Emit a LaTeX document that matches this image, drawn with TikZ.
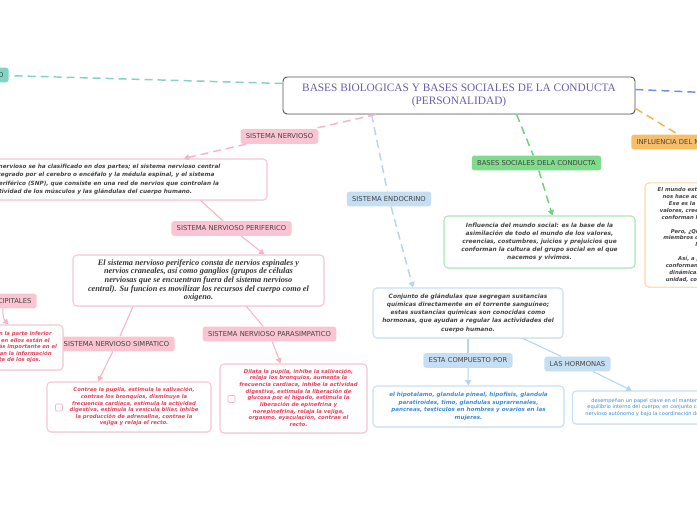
\documentclass[tikz,border=0pt]{standalone}
\usepackage{fontspec}
\setmainfont{Liberation Serif}
\newfontfamily\vsans{DejaVu Sans}[BoldFont={DejaVu Sans Bold},ItalicFont={DejaVu Sans Oblique},BoldItalicFont={DejaVu Sans Bold Oblique}]
\usetikzlibrary{arrows.meta,calc,shadows}

\definecolor{pinkfill}{HTML}{F9C5D2}
\definecolor{pinkline}{HTML}{F6B4C6}
\definecolor{pinkedge}{HTML}{F7C6D3}
\definecolor{redtxt}{HTML}{E8415F}
\definecolor{bluefill}{HTML}{C6DEF2}
\definecolor{blueline}{HTML}{B5D5EF}
\definecolor{blueedge}{HTML}{C9DFF2}
\definecolor{bluetxt}{HTML}{3A8EDA}
\definecolor{greenfill}{HTML}{80DB8C}
\definecolor{greenline}{HTML}{6ED07C}
\definecolor{greenedge}{HTML}{ACE8B2}
\definecolor{orgfill}{HTML}{F8BD67}
\definecolor{orgline}{HTML}{F6B050}
\definecolor{orgedge}{HTML}{FAD9A5}
\definecolor{tealfill}{HTML}{80D4C4}
\definecolor{tealline}{HTML}{83D2C2}
\definecolor{darkblue}{HTML}{6E8FE2}
\definecolor{titletxt}{HTML}{6C5EAC}
\definecolor{txtgray}{HTML}{444444}
\definecolor{mainedge}{HTML}{555555}

\begin{document}
\begin{tikzpicture}[x=0.75pt,y=-0.75pt]
	\tikzset{
		lbl/.style={rounded corners=2pt, inner xsep=4pt, inner ysep=0pt, minimum height=11pt, text=txtgray, font=\vsans\fontsize{5.1}{6}\selectfont},
		bx/.style={draw, line width=0.8pt, rounded corners=3pt, fill=white, align=center, drop shadow={opacity=0.1, shadow xshift=0.4pt, shadow yshift=-0.8pt}},
		boxtx/.style={font=\vsans\bfseries\itshape\fontsize{4.4}{6.1}\selectfont, text=txtgray},
		redtx/.style={font=\vsans\bfseries\itshape\fontsize{3.95}{4.9}\selectfont, text=redtxt},
		arr/.style={-{Triangle[length=4pt,width=4.5pt]}},
		dsh/.style={line width=1.1pt, dash pattern=on 6pt off 3.75pt},
		sol/.style={line width=0.8pt},
		chk/.style={draw=pinkline, line width=0.6pt, rounded corners=0.8pt, minimum size=5.2pt, inner sep=0pt}
	}

	\useasboundingbox (0,0) rectangle (697,520);
	\clip (0,0) rectangle (697,520);

	\node[bx, draw=mainedge, line width=0.7pt, minimum width=264pt, minimum height=27.75pt, text=titletxt, font=\fontsize{8.5}{9.8}\selectfont] (main) at (459,95.5) {BASES BIOLOGICAS Y BASES SOCIALES DE LA CONDUCTA\\(PERSONALIDAD)};

	\node[lbl, fill=tealfill, anchor=east] (cen) at (9,75) {CEREBRO};
	\node[lbl, fill=pinkfill] (nerv) at (279.5,136.5) {SISTEMA NERVIOSO};
	\node[lbl, fill=pinkfill] (perif) at (231.5,228.5) {SISTEMA NERVIOSO PERIFERICO};
	\node[lbl, fill=pinkfill] (simp) at (116.5,344) {SISTEMA NERVIOSO SIMPATICO};
	\node[lbl, fill=pinkfill] (para) at (269.5,334) {SISTEMA NERVIOSO PARASIMPATICO};
	\node[lbl, fill=pinkfill, anchor=east] (occ) at (37,301) {LOBULOS OCCIPITALES};
	\node[lbl, fill=bluefill] (endo) at (389,199) {SISTEMA ENDOCRINO};
	\node[lbl, fill=bluefill] (comp) at (468,360.5) {ESTA COMPUESTO POR};
	\node[lbl, fill=bluefill] (horm) at (577.5,364) {LAS HORMONAS};
	\node[lbl, fill=greenfill] (soc) at (536.5,163) {BASES SOCIALES DELA CONDUCTA};
	\node[lbl, fill=orgfill, anchor=west] (infl) at (631,142) {INFLUENCIA DEL MUNDO SOCIAL};
	\coordinate (rgt) at (760,95);

	\node[bx, boxtx, draw=pinkedge, font=\vsans\bfseries\itshape\fontsize{4.3}{6.3}\selectfont, minimum width=262.5pt, minimum height=30.75pt] (nervbox) at (92,179.5) {El sistema nervioso se ha clasificado en dos partes; el sistema nervioso central\\(SNC), integrado por el cerebro o encéfalo y la médula espinal, y el sistema\\nervioso periférico (SNP), que consiste en una red de nervios que controlan la\\actividad de los músculos y las glándulas del cuerpo humano.};
	\node[bx, draw=pinkedge, minimum width=188.25pt, minimum height=38.25pt, text=txtgray!80!black, font=\bfseries\itshape\fontsize{6.2}{6.4}\selectfont] (perifbox) at (198.5,280.5) {El sistema nervioso periferico consta de nervios espinales y\\nervios craneales, así como ganglios (grupos de células\\nerviosas que se encuentran fuera del sistema nervioso\\central). Su funcion es movilizar los recursos del cuerpo como el\\oxigeno.};
	\node[bx, redtx, draw=pinkedge, minimum width=123pt, minimum height=37.5pt] (simpbox) at (129,407) {\hspace*{7.5pt}\begin{tabular}{@{}c@{}}Contrae la pupila, estimula la salivación,\\contrae los bronquios, disminuye la\\frecuencia cardíaca, estimula la actividad\\digestiva, estimula la vesícula biliar, inhibe\\la producción de adrenalina, contrae la\\vejiga y relaja el recto.\end{tabular}};
	\node[bx, redtx, font=\vsans\bfseries\itshape\fontsize{4}{5}\selectfont, draw=pinkedge, minimum width=110.25pt, minimum height=51.75pt] (parabox) at (293.5,398.5) {\hspace*{7.5pt}\begin{tabular}{@{}c@{}}Dilata la pupila, inhibe la salivación,\\relaja los bronquios, aumenta la\\frecuencia cardíaca, inhibe la actividad\\digestiva, estimula la liberación de\\glucosa por el hígado, estimula la\\liberación de epinefrina y\\norepinefrina, relaja la vejiga,\\orgasmo, eyaculación, contrae el\\recto.\end{tabular}};
	\node[chk] (c1) at (59,407.5) {};
	\node[chk] (c2) at (231.5,399) {};
	\node[bx, redtx, draw=pinkedge, minimum width=87pt, minimum height=33.75pt] (occbox) at (5,347.5) {Se localizan en la parte inferior\\del cerebro y en ellos están el\\centro visual más importante en el\\que se procesan la información\\proveniente de los ojos.};

	\node[bx, boxtx, draw=blueedge, minimum width=142.5pt, minimum height=37.5pt] (endobox) at (468,313) {Conjunto de glándulas que segregan sustancias\\químicas directamente en el torrente sanguíneo;\\estas sustancias químicas son conocidas como\\hormonas, que ayudan a regular las actividades del\\cuerpo humano.};
	\node[bx, boxtx, draw=blueedge, text=bluetxt, font=\vsans\bfseries\itshape\fontsize{4.2}{5.8}\selectfont, minimum width=143.25pt, minimum height=30.75pt] (compbox) at (468.5,406.5) {el hipotalamo, glandula pineal, hipofisis, glandula\\paratiroides, timo, glandulas suprarrenales,\\pancreas, testiculos en hombres y ovarios en las\\mujeres.};
	\node[bx, draw=blueedge, text=bluetxt, font=\vsans\fontsize{3.8}{5.2}\selectfont, minimum width=130pt, minimum height=24.75pt] (hormbox) at (659,407.5) {desempeñan un papel clave en el mantenimiento del\\equilibrio interno del cuerpo, en conjunto con el sistema\\nervioso autónomo y bajo la coordinación del hipotálamo.};

	\node[bx, boxtx, draw=greenedge, minimum width=143.25pt, minimum height=39pt] (socbox) at (539.5,242) {Influencia del mundo social: es la base de la\\asimilación de todo el mundo de los valores,\\creencias, costumbres, juicios y prejuicios que\\conforman la cultura del grupo social en el que\\nacemos y vivimos.};
	\node[bx, draw=orgedge, text=txtgray, font=\vsans\bfseries\itshape\fontsize{4}{5.2}\selectfont, minimum width=114pt, minimum height=78pt] (inflbox) at (721,235) {El mundo exterior en el que nos movemos\\nos hace actuar de una u otra manera.\\Ese es la base de la asimilación de\\valores, creencias y costumbres que nos\\conforman la cultura de nuestro grupo.\\[5.2pt]Pero, ¿Qué ayuda a que todos los\\miembros de un grupo se identifiquen\\los unos a otros?\\[5.2pt]Así, a partir de los lazos que\\conforman a un grupo social, surgen\\dinámicas que le otorgan al grupo\\unidad, cohesión e identidad propia.};

	\draw[tealline, dsh] ($(main.west)+(0,-12)$) to (cen);
	\draw[darkblue, dsh] ($(main.east)+(0,-6)$) to (rgt);
	\draw[orgline, dsh] ($(main.south east)+(0,-6)$) to ($(infl.north west)+(47,0)$);

	\draw[pinkline, dsh] (main) to (nerv);
	\draw[pinkline, dsh, arr] (nerv) to (nervbox);
	\draw[pinkline, sol] ($(nervbox.south east)+(-67,0)$) to (perif);
	\draw[pinkline, sol, arr] (perif) to ($(perifbox.north)+(66,0)$);
	\draw[pinkline, sol] ($(perifbox.south)+(-65.5,0)$) to (simp);
	\draw[pinkline, sol, arr] (simp) to ($(simpbox.north)+(-31,0)$);
	\draw[pinkline, sol] ($(perifbox.south)+(48,0)$) to (para);
	\draw[pinkline, sol, arr] (para) to (parabox);
	\draw[pinkline, sol, arr] ($(occ.south east)+(-34,0)$) to[bend right=25] ($(occbox.north east)+(-55,0)$);

	\draw[blueline, dsh] ($(main.south west)+(89,0)$) to (endo);
	\draw[blueline, dsh, arr] (endo) to ($(endobox.north)+(-55,0)$);
	\draw[blueline, sol] (endobox) to (comp);
	\draw[blueline, sol, arr] (comp) to (compbox);
	\draw[blueline, sol] ($(endobox.south)+(55,0)$) to (horm);
	\draw[blueline, sol, arr] (horm) to ($(hormbox.north west)+(60,0)$);

	\draw[greenline, dsh] ($(main.south west)+(234,0)$) to (soc);
	\draw[greenline, dsh, arr] (soc) to ($(socbox.north)+(13,0)$);
\end{tikzpicture}
\end{document}
